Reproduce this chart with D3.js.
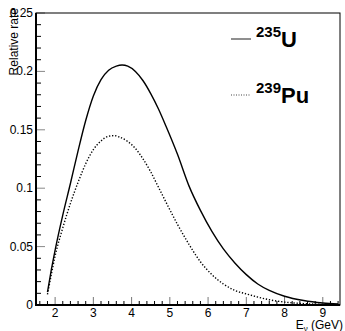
<!DOCTYPE html>
<html>
<head>
  <script src="https://d3js.org/d3.v7.min.js"></script>
  <style>
    body { margin: 0; background: #fff; }
    svg { display: block; font-family: "Liberation Sans", Arial, sans-serif; }
  </style>
</head>
<body>
  <svg id="chart" width="345" height="331"></svg>
  <script>
    // energies (GeV) and relative rates
    const energyU = [1.8, 1.9, 2.0, 2.2, 2.4, 2.6, 2.8, 3.0, 3.2, 3.4, 3.6, 3.75, 3.9, 4.1, 4.3, 4.5, 4.7, 4.9, 5.2, 5.5, 5.8, 6.1, 6.4, 6.7, 7.0, 7.3, 7.6, 8.0, 8.5, 9.0, 9.4];
    const rateU = [0.011, 0.03, 0.047, 0.077, 0.104, 0.132, 0.158, 0.179, 0.193, 0.201, 0.2045, 0.2055, 0.2045, 0.2, 0.192, 0.181, 0.168, 0.153, 0.129, 0.102, 0.081, 0.063, 0.048, 0.036, 0.026, 0.018, 0.0125, 0.0075, 0.0038, 0.0017, 0.0008];

    const energyPu = [1.8, 1.9, 2.0, 2.2, 2.4, 2.6, 2.8, 3.0, 3.2, 3.4, 3.55, 3.7, 3.9, 4.1, 4.3, 4.5, 4.7, 4.9, 5.2, 5.5, 5.8, 6.1, 6.4, 6.7, 7.0, 7.3, 7.6, 8.0, 8.5, 9.0, 9.4];
    const ratePu = [0.009, 0.026, 0.042, 0.066, 0.087, 0.105, 0.121, 0.133, 0.1405, 0.1445, 0.145, 0.1435, 0.14, 0.134, 0.125, 0.114, 0.101, 0.088, 0.069, 0.052, 0.037, 0.026, 0.018, 0.0125, 0.0095, 0.0068, 0.0045, 0.0025, 0.0012, 0.0005, 0.0002];

    const xTicks = [2, 3, 4, 5, 6, 7, 8, 9];
    const yTicks = [0, 0.05, 0.1, 0.15, 0.2, 0.25];
    const yTickLabels = ["0", "0.05", "0.1", "0.15", "0.2", "0.25"];

    const svg = d3.select("#chart");
    const mLeft = 36, mRight = 340, mTop = 13, mBottom = 305;

    const x = d3.scaleLinear().domain([1.5, 9.45]).range([mLeft, mRight]);
    const y = d3.scaleLinear().domain([0, 0.25]).range([mBottom, mTop]);

    // minor ticks
    const xMinor = d3.range(1.6, 9.45, 0.2).map(v => +v.toFixed(1)).filter(v => !xTicks.includes(v));
    const yMinor = d3.range(0.01, 0.25, 0.01).map(v => +v.toFixed(2)).filter(v => Math.round(v * 100) % 5 !== 0);

    const g = svg.append("g");
    g.selectAll(".xminor").data(xMinor).join("line")
      .attr("x1", d => x(d)).attr("x2", d => x(d))
      .attr("y1", mBottom).attr("y2", mBottom - 4)
      .attr("stroke", "#000").attr("stroke-width", 1);
    g.selectAll(".xmajor").data(xTicks).join("line")
      .attr("x1", d => x(d)).attr("x2", d => x(d))
      .attr("y1", mBottom).attr("y2", mBottom - 8)
      .attr("stroke", "#777").attr("stroke-width", 1);
    g.selectAll(".yminor").data(yMinor).join("line")
      .attr("x1", mLeft).attr("x2", mLeft + 5)
      .attr("y1", d => y(d)).attr("y2", d => y(d))
      .attr("stroke", "#000").attr("stroke-width", 1);
    g.selectAll(".ymajor").data(yTicks).join("line")
      .attr("x1", mLeft).attr("x2", mLeft + 9)
      .attr("y1", d => y(d)).attr("y2", d => y(d))
      .attr("stroke", "#888").attr("stroke-width", 1);

    // frame
    svg.append("rect")
      .attr("x", mLeft).attr("y", mTop)
      .attr("width", mRight - mLeft).attr("height", mBottom - mTop)
      .attr("fill", "none").attr("stroke", "#000").attr("stroke-width", 1);
    svg.append("line").attr("x1", mLeft).attr("x2", mLeft).attr("y1", mTop).attr("y2", mBottom + 1)
      .attr("stroke", "#000").attr("stroke-width", 2);
    svg.append("line").attr("x1", mLeft - 1).attr("x2", mRight).attr("y1", mBottom).attr("y2", mBottom)
      .attr("stroke", "#000").attr("stroke-width", 2);

    // tick labels
    svg.selectAll(".xlab").data(xTicks).join("text")
      .attr("x", d => x(d)).attr("y", mBottom + 12)
      .attr("text-anchor", "middle").attr("font-size", 12)
      .text(d => d);
    svg.selectAll(".ylab").data(yTicks).join("text")
      .attr("x", mLeft - 3).attr("y", d => y(d) + 4)
      .attr("text-anchor", "end").attr("font-size", 12)
      .text((d, i) => yTickLabels[i]);

    // axis titles
    svg.append("text")
      .attr("transform", `translate(18, 8) rotate(-90)`)
      .attr("text-anchor", "end").attr("font-size", 12)
      .text("Relative rate");
    const xt = svg.append("text")
      .attr("x", 343).attr("y", 328.5)
      .attr("text-anchor", "end").attr("font-size", 12);
    xt.append("tspan").text("E");
    xt.append("tspan").attr("font-size", 8).attr("dy", 2).text("ν");
    xt.append("tspan").attr("dy", -2).text(" (GeV)");

    // curves
    const line = d3.line().x(d => x(d[0])).y(d => y(d[1])).curve(d3.curveMonotoneX);
    svg.append("path")
      .attr("d", line(d3.zip(energyU, rateU)))
      .attr("fill", "none").attr("stroke", "#000").attr("stroke-width", 1.4);
    svg.append("path")
      .attr("d", line(d3.zip(energyPu, ratePu)))
      .attr("fill", "none").attr("stroke", "#000").attr("stroke-width", 1.4)
      .attr("stroke-dasharray", "1.3,1.8");

    // legend
    const legend = [
      { iso: "235", el: "U", dash: null, ly: 39 },
      { iso: "239", el: "Pu", dash: "1,1.5", ly: 95 }
    ];
    legend.forEach(d => {
      svg.append("line")
        .attr("x1", 231).attr("x2", 251).attr("y1", d.ly).attr("y2", d.ly)
        .attr("stroke", "#444").attr("stroke-width", 1.2)
        .attr("stroke-dasharray", d.dash);
      const t = svg.append("text")
        .attr("x", 256).attr("y", d.ly + 8)
        .attr("font-weight", "bold").attr("font-size", 22);
      t.append("tspan").attr("font-size", 15).attr("dy", -10).text(d.iso);
      t.append("tspan").attr("dy", 10).text(d.el);
    });
  </script>
</body>
</html>
